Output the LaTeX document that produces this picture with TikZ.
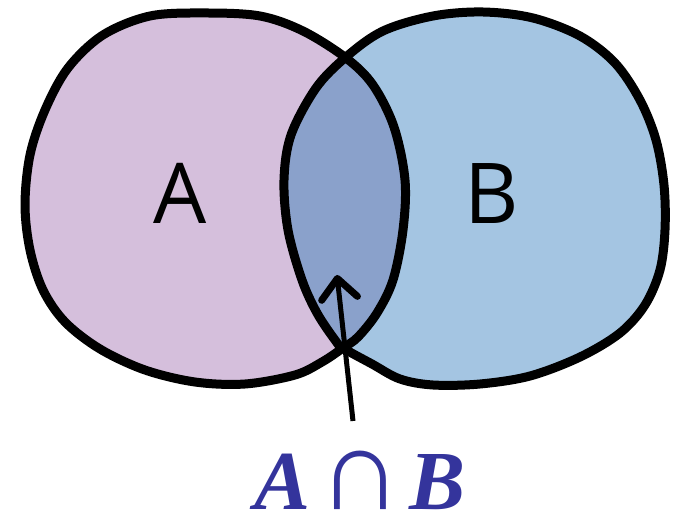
\documentclass[tikz,border=0pt]{standalone}
\usepackage{fontspec}
\newfontfamily\capfont{Liberation Serif}
\newfontfamily\handfont{Open Sans}
\usetikzlibrary{arrows.meta}

\definecolor{setA}{RGB}{213,191,220}
\definecolor{setB}{RGB}{164,197,226}
\definecolor{setAB}{RGB}{138,161,203}
\definecolor{capblue}{RGB}{52,52,156}

\tikzset{
  outline/.style={line width=9pt, line join=round},
  setlabel/.style={font=\handfont\fontsize{84}{84}\selectfont, inner sep=0pt},
  caption/.style={font=\capfont\fontsize{84}{84}\selectfont, text=capblue, inner sep=0pt, anchor=base},
}
\newcommand{\capsym}{{\fontsize{116}{116}\selectfont ∩}}

% the two hand drawn blobs
\def\blobA{plot[smooth cycle, tension=0.55] coordinates {(150,16) (205,13) (260,16) (303,31) (346,58) (373,85) (394,127) (405,180) (403,230) (393,280) (377,313) (358,337) (343,348) (322,362) (295,375) (245,384) (195,382) (145,370) (100,349) (65,322) (43,290) (30,250) (25,205) (30,155) (45,110) (68,68) (103,35)}}
\def\blobB{plot[smooth cycle, tension=0.55] coordinates {(346,57) (383,31) (433,16) (483,12) (533,18) (580,36) (615,63) (640,100) (656,140) (664,185) (665,230) (660,270) (645,305) (620,333) (580,357) (530,376) (480,384) (433,385) (400,379) (372,364) (343,348) (335,340) (317,313) (302,280) (288,230) (284,180) (291,135) (316,88)}}

\begin{document}
\begin{tikzpicture}[x=1pt, y=-1pt]
\useasboundingbox (0,0) rectangle (673,518);

% Fills
\fill[setA] \blobA;
\fill[setB] \blobB;
\begin{scope}
  \clip \blobA;
  \fill[setAB] \blobB;
\end{scope}

% Outlines
\draw[outline] \blobA;
\draw[outline] \blobB;

% Labels
\node[setlabel] (labA) at (180,193) {A};
\node[setlabel] (labB) at (492,194) {B};
\node[caption] (cap) at (360,510) {{\bfseries\itshape A}\hspace{8pt}\capsym\hspace{8pt}{\bfseries\itshape B}};

% Arrow
\coordinate (tail) at (353,421);
\coordinate (tip) at (337,275);
\draw[line width=5pt, -{Straight Barb[length=20pt, width=36pt, line width=7pt, round]}] (tail) -- (tip);

\end{tikzpicture}
\end{document}
